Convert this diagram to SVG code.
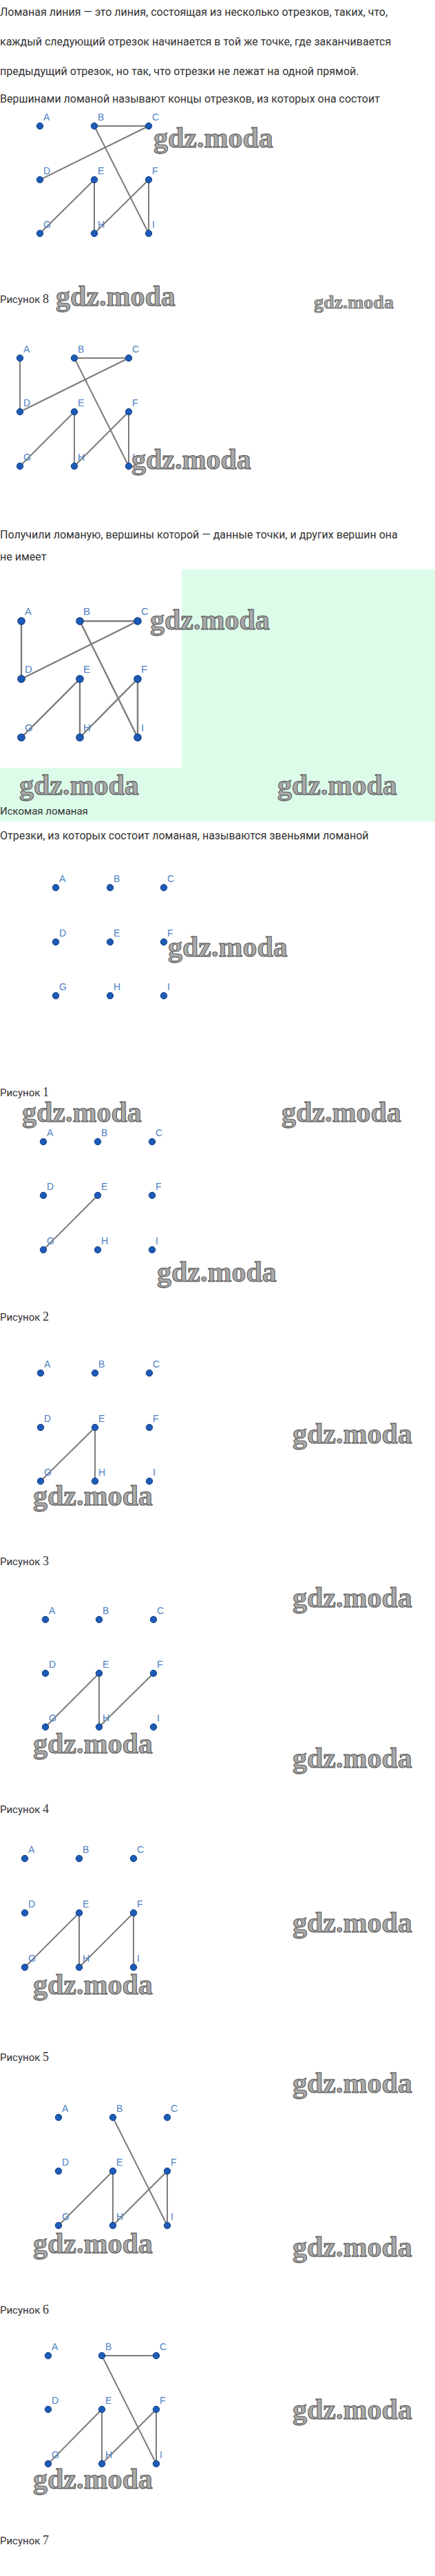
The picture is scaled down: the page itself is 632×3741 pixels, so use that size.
<svg xmlns="http://www.w3.org/2000/svg" width="632" height="3741" viewBox="0 0 632 3741">
<style>
.bg{fill:#ffffff}
.green{fill:#dcfce9}
.body{font-family:Roboto,"Liberation Sans",sans-serif;font-size:16px;fill:#333333}
.cap{font-family:Roboto,"Liberation Sans",sans-serif;font-size:15px;fill:#333333}
.num{font-family:"Liberation Serif",serif;font-size:18px}
.wm{font-family:"Liberation Serif",serif;font-weight:bold;font-size:42px;fill:#a9a9a9;stroke:#4a4a4a;stroke-width:0.9}
.wms{font-size:28px;stroke-width:0.7}
.pt circle{fill:#1c5bb8;stroke:#0e3a7d;stroke-width:1}
.pt text{font-family:"Liberation Sans",Arial,sans-serif;font-size:14px;fill:#4d7fc1}
.big circle{stroke-width:1.2}
.big text{font-size:15px}
.edges line{stroke:#7c7c7c;stroke-width:2;stroke-linecap:round}
.edges.big line{stroke-width:2.4}
</style>
<rect class="bg" x="0" y="0" width="632" height="3741"/>
<path class="green" d="M264 827H632V1193H0V1115H264Z"/>

<g id="texts">
<text class="body" x="0" y="23">Ломаная линия — это линия, состоящая из несколько отрезков, таких, что,</text>
<text class="body" x="0" y="66">каждый следующий отрезок начинается в той же точке, где заканчивается</text>
<text class="body" x="0" y="109">предыдущий отрезок, но так, что отрезки не лежат на одной прямой.</text>
<text class="body" x="0" y="149">Вершинами ломаной называют концы отрезков, из которых она состоит</text>
<text class="cap" x="0" y="440">Рисунок <tspan class="num">8</tspan></text>
<text class="body" x="0" y="782">Получили ломаную, вершины которой — данные точки, и других вершин она</text>
<text class="body" x="0" y="814">не имеет</text>
<text class="cap" x="0" y="1183">Искомая ломаная</text>
<text class="body" x="0" y="1219">Отрезки, из которых состоит ломаная, называются звеньями ломаной</text>
<text class="cap" x="0" y="1592">Рисунок <tspan class="num">1</tspan></text>
<text class="cap" x="0" y="1918">Рисунок <tspan class="num">2</tspan></text>
<text class="cap" x="0" y="2273">Рисунок <tspan class="num">3</tspan></text>
<text class="cap" x="0" y="2633">Рисунок <tspan class="num">4</tspan></text>
<text class="cap" x="0" y="2993">Рисунок <tspan class="num">5</tspan></text>
<text class="cap" x="0" y="3360">Рисунок <tspan class="num">6</tspan></text>
<text class="cap" x="0" y="3695">Рисунок <tspan class="num">7</tspan></text>
</g>

<!-- Figure 1 -->
<g id="fig1">
<g class="edges" id="fig1-edges">
<line x1="137" y1="183" x2="216" y2="183"/>
<line x1="216" y1="183" x2="58" y2="261"/>
<line x1="137" y1="183" x2="216" y2="339"/>
<line x1="137" y1="261" x2="58" y2="339"/>
<line x1="137" y1="261" x2="137" y2="339"/>
<line x1="216" y1="261" x2="137" y2="339"/>
<line x1="216" y1="261" x2="216" y2="339"/>
</g>
<g class="pt" id="fig1-A"><circle cx="58" cy="183" r="4.7"/><text x="63" y="175">A</text></g>
<g class="pt" id="fig1-B"><circle cx="137" cy="183" r="4.7"/><text x="142" y="175">B</text></g>
<g class="pt" id="fig1-C"><circle cx="216" cy="183" r="4.7"/><text x="221" y="175">C</text></g>
<g class="pt" id="fig1-D"><circle cx="58" cy="261" r="4.7"/><text x="63" y="253">D</text></g>
<g class="pt" id="fig1-E"><circle cx="137" cy="261" r="4.7"/><text x="142" y="253">E</text></g>
<g class="pt" id="fig1-F"><circle cx="216" cy="261" r="4.7"/><text x="221" y="253">F</text></g>
<g class="pt" id="fig1-G"><circle cx="58" cy="339" r="4.7"/><text x="63" y="331">G</text></g>
<g class="pt" id="fig1-H"><circle cx="137" cy="339" r="4.7"/><text x="142" y="331">H</text></g>
<g class="pt" id="fig1-I"><circle cx="216" cy="339" r="4.7"/><text x="221" y="331">I</text></g>
</g>

<!-- Figure 2 -->
<g id="fig2">
<g class="edges" id="fig2-edges">
<line x1="29" y1="520" x2="29" y2="598"/>
<line x1="108" y1="520" x2="187" y2="520"/>
<line x1="187" y1="520" x2="29" y2="598"/>
<line x1="108" y1="520" x2="187" y2="677"/>
<line x1="108" y1="598" x2="29" y2="677"/>
<line x1="108" y1="598" x2="108" y2="677"/>
<line x1="187" y1="598" x2="108" y2="677"/>
<line x1="187" y1="598" x2="187" y2="677"/>
</g>
<g class="pt" id="fig2-A"><circle cx="29" cy="520" r="4.7"/><text x="34" y="512">A</text></g>
<g class="pt" id="fig2-B"><circle cx="108" cy="520" r="4.7"/><text x="113" y="512">B</text></g>
<g class="pt" id="fig2-C"><circle cx="187" cy="520" r="4.7"/><text x="192" y="512">C</text></g>
<g class="pt" id="fig2-D"><circle cx="29" cy="598" r="4.7"/><text x="34" y="590">D</text></g>
<g class="pt" id="fig2-E"><circle cx="108" cy="598" r="4.7"/><text x="113" y="590">E</text></g>
<g class="pt" id="fig2-F"><circle cx="187" cy="598" r="4.7"/><text x="192" y="590">F</text></g>
<g class="pt" id="fig2-G"><circle cx="29" cy="677" r="4.7"/><text x="34" y="669">G</text></g>
<g class="pt" id="fig2-H"><circle cx="108" cy="677" r="4.7"/><text x="113" y="669">H</text></g>
<g class="pt" id="fig2-I"><circle cx="187" cy="677" r="4.7"/><text x="192" y="669">I</text></g>
</g>

<!-- Figure 3 -->
<rect class="bg" x="0" y="827" width="264" height="288"/>
<g id="fig3">
<g class="edges big" id="fig3-edges">
<line x1="31" y1="902" x2="31" y2="986"/>
<line x1="116" y1="902" x2="200" y2="902"/>
<line x1="200" y1="902" x2="31" y2="986"/>
<line x1="116" y1="902" x2="200" y2="1071"/>
<line x1="116" y1="986" x2="31" y2="1071"/>
<line x1="116" y1="986" x2="116" y2="1071"/>
<line x1="200" y1="986" x2="116" y2="1071"/>
<line x1="200" y1="986" x2="200" y2="1071"/>
</g>
<g class="pt big" id="fig3-A"><circle cx="31" cy="902" r="5.2"/><text x="36" y="893">A</text></g>
<g class="pt big" id="fig3-B"><circle cx="116" cy="902" r="5.2"/><text x="121" y="893">B</text></g>
<g class="pt big" id="fig3-C"><circle cx="200" cy="902" r="5.2"/><text x="205" y="893">C</text></g>
<g class="pt big" id="fig3-D"><circle cx="31" cy="986" r="5.2"/><text x="36" y="977">D</text></g>
<g class="pt big" id="fig3-E"><circle cx="116" cy="986" r="5.2"/><text x="121" y="977">E</text></g>
<g class="pt big" id="fig3-F"><circle cx="200" cy="986" r="5.2"/><text x="205" y="977">F</text></g>
<g class="pt big" id="fig3-G"><circle cx="31" cy="1071" r="5.2"/><text x="36" y="1062">G</text></g>
<g class="pt big" id="fig3-H"><circle cx="116" cy="1071" r="5.2"/><text x="121" y="1062">H</text></g>
<g class="pt big" id="fig3-I"><circle cx="200" cy="1071" r="5.2"/><text x="205" y="1062">I</text></g>
</g>

<!-- Figure 4 (Рисунок 1) -->
<g id="fig4">
<g class="pt" id="fig4-A"><circle cx="81" cy="1289" r="4.7"/><text x="86" y="1281">A</text></g>
<g class="pt" id="fig4-B"><circle cx="160" cy="1289" r="4.7"/><text x="165" y="1281">B</text></g>
<g class="pt" id="fig4-C"><circle cx="238" cy="1289" r="4.7"/><text x="243" y="1281">C</text></g>
<g class="pt" id="fig4-D"><circle cx="81" cy="1368" r="4.7"/><text x="86" y="1360">D</text></g>
<g class="pt" id="fig4-E"><circle cx="160" cy="1368" r="4.7"/><text x="165" y="1360">E</text></g>
<g class="pt" id="fig4-F"><circle cx="238" cy="1368" r="4.7"/><text x="243" y="1360">F</text></g>
<g class="pt" id="fig4-G"><circle cx="81" cy="1446" r="4.7"/><text x="86" y="1438">G</text></g>
<g class="pt" id="fig4-H"><circle cx="160" cy="1446" r="4.7"/><text x="165" y="1438">H</text></g>
<g class="pt" id="fig4-I"><circle cx="238" cy="1446" r="4.7"/><text x="243" y="1438">I</text></g>
</g>

<!-- Figure 5 (Рисунок 2) -->
<g id="fig5">
<g class="edges" id="fig5-edges">
<line x1="142" y1="1736" x2="63" y2="1815"/>
</g>
<g class="pt" id="fig5-A"><circle cx="63" cy="1658" r="4.7"/><text x="68" y="1650">A</text></g>
<g class="pt" id="fig5-B"><circle cx="142" cy="1658" r="4.7"/><text x="147" y="1650">B</text></g>
<g class="pt" id="fig5-C"><circle cx="221" cy="1658" r="4.7"/><text x="226" y="1650">C</text></g>
<g class="pt" id="fig5-D"><circle cx="63" cy="1736" r="4.7"/><text x="68" y="1728">D</text></g>
<g class="pt" id="fig5-E"><circle cx="142" cy="1736" r="4.7"/><text x="147" y="1728">E</text></g>
<g class="pt" id="fig5-F"><circle cx="221" cy="1736" r="4.7"/><text x="226" y="1728">F</text></g>
<g class="pt" id="fig5-G"><circle cx="63" cy="1815" r="4.7"/><text x="68" y="1807">G</text></g>
<g class="pt" id="fig5-H"><circle cx="142" cy="1815" r="4.7"/><text x="147" y="1807">H</text></g>
<g class="pt" id="fig5-I"><circle cx="221" cy="1815" r="4.7"/><text x="226" y="1807">I</text></g>
</g>

<!-- Figure 6 (Рисунок 3) -->
<g id="fig6">
<g class="edges" id="fig6-edges">
<line x1="138" y1="2073" x2="59" y2="2151"/>
<line x1="138" y1="2073" x2="138" y2="2151"/>
</g>
<g class="pt" id="fig6-A"><circle cx="59" cy="1994" r="4.7"/><text x="64" y="1986">A</text></g>
<g class="pt" id="fig6-B"><circle cx="138" cy="1994" r="4.7"/><text x="143" y="1986">B</text></g>
<g class="pt" id="fig6-C"><circle cx="217" cy="1994" r="4.7"/><text x="222" y="1986">C</text></g>
<g class="pt" id="fig6-D"><circle cx="59" cy="2073" r="4.7"/><text x="64" y="2065">D</text></g>
<g class="pt" id="fig6-E"><circle cx="138" cy="2073" r="4.7"/><text x="143" y="2065">E</text></g>
<g class="pt" id="fig6-F"><circle cx="217" cy="2073" r="4.7"/><text x="222" y="2065">F</text></g>
<g class="pt" id="fig6-G"><circle cx="59" cy="2151" r="4.7"/><text x="64" y="2143">G</text></g>
<g class="pt" id="fig6-H"><circle cx="138" cy="2151" r="4.7"/><text x="143" y="2143">H</text></g>
<g class="pt" id="fig6-I"><circle cx="217" cy="2151" r="4.7"/><text x="222" y="2143">I</text></g>
</g>

<!-- Figure 7 (Рисунок 4) -->
<g id="fig7">
<g class="edges" id="fig7-edges">
<line x1="144" y1="2430" x2="66" y2="2508"/>
<line x1="144" y1="2430" x2="144" y2="2508"/>
<line x1="223" y1="2430" x2="144" y2="2508"/>
</g>
<g class="pt" id="fig7-A"><circle cx="66" cy="2352" r="4.7"/><text x="71" y="2344">A</text></g>
<g class="pt" id="fig7-B"><circle cx="144" cy="2352" r="4.7"/><text x="149" y="2344">B</text></g>
<g class="pt" id="fig7-C"><circle cx="223" cy="2352" r="4.7"/><text x="228" y="2344">C</text></g>
<g class="pt" id="fig7-D"><circle cx="66" cy="2430" r="4.7"/><text x="71" y="2422">D</text></g>
<g class="pt" id="fig7-E"><circle cx="144" cy="2430" r="4.7"/><text x="149" y="2422">E</text></g>
<g class="pt" id="fig7-F"><circle cx="223" cy="2430" r="4.7"/><text x="228" y="2422">F</text></g>
<g class="pt" id="fig7-G"><circle cx="66" cy="2508" r="4.7"/><text x="71" y="2500">G</text></g>
<g class="pt" id="fig7-H"><circle cx="144" cy="2508" r="4.7"/><text x="149" y="2500">H</text></g>
<g class="pt" id="fig7-I"><circle cx="223" cy="2508" r="4.7"/><text x="228" y="2500">I</text></g>
</g>

<!-- Figure 8 (Рисунок 5) -->
<g id="fig8">
<g class="edges" id="fig8-edges">
<line x1="115" y1="2778" x2="36" y2="2857"/>
<line x1="115" y1="2778" x2="115" y2="2857"/>
<line x1="194" y1="2778" x2="115" y2="2857"/>
<line x1="194" y1="2778" x2="194" y2="2857"/>
</g>
<g class="pt" id="fig8-A"><circle cx="36" cy="2699" r="4.7"/><text x="41" y="2691">A</text></g>
<g class="pt" id="fig8-B"><circle cx="115" cy="2699" r="4.7"/><text x="120" y="2691">B</text></g>
<g class="pt" id="fig8-C"><circle cx="194" cy="2699" r="4.7"/><text x="199" y="2691">C</text></g>
<g class="pt" id="fig8-D"><circle cx="36" cy="2778" r="4.7"/><text x="41" y="2770">D</text></g>
<g class="pt" id="fig8-E"><circle cx="115" cy="2778" r="4.7"/><text x="120" y="2770">E</text></g>
<g class="pt" id="fig8-F"><circle cx="194" cy="2778" r="4.7"/><text x="199" y="2770">F</text></g>
<g class="pt" id="fig8-G"><circle cx="36" cy="2857" r="4.7"/><text x="41" y="2849">G</text></g>
<g class="pt" id="fig8-H"><circle cx="115" cy="2857" r="4.7"/><text x="120" y="2849">H</text></g>
<g class="pt" id="fig8-I"><circle cx="194" cy="2857" r="4.7"/><text x="199" y="2849">I</text></g>
</g>

<!-- Figure 9 (Рисунок 6) -->
<g id="fig9">
<g class="edges" id="fig9-edges">
<line x1="164" y1="3075" x2="243" y2="3232"/>
<line x1="164" y1="3153" x2="85" y2="3232"/>
<line x1="164" y1="3153" x2="164" y2="3232"/>
<line x1="243" y1="3153" x2="164" y2="3232"/>
<line x1="243" y1="3153" x2="243" y2="3232"/>
</g>
<g class="pt" id="fig9-A"><circle cx="85" cy="3075" r="4.7"/><text x="90" y="3067">A</text></g>
<g class="pt" id="fig9-B"><circle cx="164" cy="3075" r="4.7"/><text x="169" y="3067">B</text></g>
<g class="pt" id="fig9-C"><circle cx="243" cy="3075" r="4.7"/><text x="248" y="3067">C</text></g>
<g class="pt" id="fig9-D"><circle cx="85" cy="3153" r="4.7"/><text x="90" y="3145">D</text></g>
<g class="pt" id="fig9-E"><circle cx="164" cy="3153" r="4.7"/><text x="169" y="3145">E</text></g>
<g class="pt" id="fig9-F"><circle cx="243" cy="3153" r="4.7"/><text x="248" y="3145">F</text></g>
<g class="pt" id="fig9-G"><circle cx="85" cy="3232" r="4.7"/><text x="90" y="3224">G</text></g>
<g class="pt" id="fig9-H"><circle cx="164" cy="3232" r="4.7"/><text x="169" y="3224">H</text></g>
<g class="pt" id="fig9-I"><circle cx="243" cy="3232" r="4.7"/><text x="248" y="3224">I</text></g>
</g>

<!-- Figure 10 (Рисунок 7) -->
<g id="fig10">
<g class="edges" id="fig10-edges">
<line x1="148" y1="3421" x2="227" y2="3421"/>
<line x1="148" y1="3421" x2="227" y2="3578"/>
<line x1="148" y1="3499" x2="70" y2="3578"/>
<line x1="148" y1="3499" x2="148" y2="3578"/>
<line x1="227" y1="3499" x2="148" y2="3578"/>
<line x1="227" y1="3499" x2="227" y2="3578"/>
</g>
<g class="pt" id="fig10-A"><circle cx="70" cy="3421" r="4.7"/><text x="75" y="3413">A</text></g>
<g class="pt" id="fig10-B"><circle cx="148" cy="3421" r="4.7"/><text x="153" y="3413">B</text></g>
<g class="pt" id="fig10-C"><circle cx="227" cy="3421" r="4.7"/><text x="232" y="3413">C</text></g>
<g class="pt" id="fig10-D"><circle cx="70" cy="3499" r="4.7"/><text x="75" y="3491">D</text></g>
<g class="pt" id="fig10-E"><circle cx="148" cy="3499" r="4.7"/><text x="153" y="3491">E</text></g>
<g class="pt" id="fig10-F"><circle cx="227" cy="3499" r="4.7"/><text x="232" y="3491">F</text></g>
<g class="pt" id="fig10-G"><circle cx="70" cy="3578" r="4.7"/><text x="75" y="3570">G</text></g>
<g class="pt" id="fig10-H"><circle cx="148" cy="3578" r="4.7"/><text x="153" y="3570">H</text></g>
<g class="pt" id="fig10-I"><circle cx="227" cy="3578" r="4.7"/><text x="232" y="3570">I</text></g>
</g>

<g id="watermarks">
<text class="wm" x="223" y="214">gdz.moda</text>
<text class="wm" x="81" y="444">gdz.moda</text>
<text class="wm wms" x="456" y="448">gdz.moda</text>
<text class="wm" x="191" y="681">gdz.moda</text>
<text class="wm" x="218" y="914">gdz.moda</text>
<text class="wm" x="28" y="1154">gdz.moda</text>
<text class="wm" x="403" y="1154">gdz.moda</text>
<text class="wm" x="244" y="1389">gdz.moda</text>
<text class="wm" x="32" y="1629">gdz.moda</text>
<text class="wm" x="409" y="1629">gdz.moda</text>
<text class="wm" x="228" y="1861">gdz.moda</text>
<text class="wm" x="425" y="2096">gdz.moda</text>
<text class="wm" x="48" y="2186">gdz.moda</text>
<text class="wm" x="425" y="2334">gdz.moda</text>
<text class="wm" x="48" y="2546">gdz.moda</text>
<text class="wm" x="425" y="2567">gdz.moda</text>
<text class="wm" x="425" y="2806">gdz.moda</text>
<text class="wm" x="48" y="2896">gdz.moda</text>
<text class="wm" x="425" y="3039">gdz.moda</text>
<text class="wm" x="48" y="3272">gdz.moda</text>
<text class="wm" x="425" y="3277">gdz.moda</text>
<text class="wm" x="425" y="3513">gdz.moda</text>
<text class="wm" x="48" y="3614">gdz.moda</text>
</g>
</svg>
